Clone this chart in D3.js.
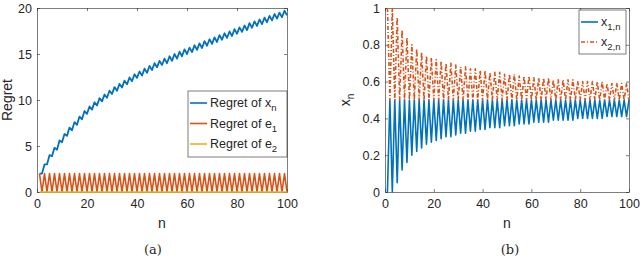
<!DOCTYPE html>
<html>
<head>
<meta charset="utf-8">
<script src="https://cdn.jsdelivr.net/npm/d3@7"></script>
<style>
  body { margin: 0; background: #fff; }
  svg { display: block; }
  text { font-family: "Liberation Sans", Arial, Helvetica, sans-serif; fill: #262626; }
</style>
</head>
<body>
<script>
// ---- data ----
var nTicks = [0, 20, 40, 60, 80, 100];
var regretTicks = [0, 5, 10, 15, 20];
var xnTicks = [0, 0.2, 0.4, 0.6, 0.8, 1];

var regretX = [2.0, 2.0, 3.0, 3.0, 4.0, 3.9, 4.8, 4.6, 5.6, 5.4,
  6.3, 6.1, 7.0, 6.7, 7.6, 7.3, 8.2, 7.9, 8.8, 8.5,
  9.3, 8.95, 9.75, 9.4, 10.2, 9.85, 10.6, 10.25, 11.0, 10.65,
  11.4, 11.0, 11.75, 11.35, 12.1, 11.7, 12.45, 12.05, 12.8, 12.4,
  13.1, 12.65, 13.4, 12.95, 13.7, 13.25, 14.0, 13.55, 14.25, 13.8,
  14.5, 14.0, 14.75, 14.25, 15.0, 14.5, 15.25, 14.75, 15.5, 15.0,
  15.7, 15.2, 15.95, 15.45, 16.15, 15.65, 16.4, 15.9, 16.6, 16.1,
  16.8, 16.3, 17.05, 16.55, 17.25, 16.75, 17.45, 16.95, 17.7, 17.2,
  17.9, 17.4, 18.1, 17.6, 18.35, 17.85, 18.55, 18.05, 18.75, 18.25,
  18.95, 18.45, 19.15, 18.65, 19.35, 18.85, 19.5, 19.0, 19.7, 19.2];

var regretE1 = [2, 0, 2, 0, 2, 0, 2, 0, 2, 0, 2, 0, 2, 0, 2, 0, 2, 0, 2, 0,
  2, 0, 2, 0, 2, 0, 2, 0, 2, 0, 2, 0, 2, 0, 2, 0, 2, 0, 2, 0,
  2, 0, 2, 0, 2, 0, 2, 0, 2, 0, 2, 0, 2, 0, 2, 0, 2, 0, 2, 0,
  2, 0, 2, 0, 2, 0, 2, 0, 2, 0, 2, 0, 2, 0, 2, 0, 2, 0, 2, 0,
  2, 0, 2, 0, 2, 0, 2, 0, 2, 0, 2, 0, 2, 0, 2, 0, 2, 0, 2, 0];

var regretE2 = [0, 0, 0, 0, 0, 0, 0, 0, 0, 0, 0, 0, 0, 0, 0, 0, 0, 0, 0, 0,
  0, 0, 0, 0, 0, 0, 0, 0, 0, 0, 0, 0, 0, 0, 0, 0, 0, 0, 0, 0,
  0, 0, 0, 0, 0, 0, 0, 0, 0, 0, 0, 0, 0, 0, 0, 0, 0, 0, 0, 0,
  0, 0, 0, 0, 0, 0, 0, 0, 0, 0, 0, 0, 0, 0, 0, 0, 0, 0, 0, 0,
  0, 0, 0, 0, 0, 0, 0, 0, 0, 0, 0, 0, 0, 0, 0, 0, 0, 0, 0, 0];

var x1n = [0.00, 0.5, 0.00, 0.5, 0.05, 0.5, 0.12, 0.5, 0.16, 0.5,
  0.20, 0.5, 0.22, 0.5, 0.24, 0.5, 0.26, 0.5, 0.27, 0.5,
  0.28, 0.5, 0.29, 0.5, 0.30, 0.5, 0.30, 0.5, 0.31, 0.5,
  0.32, 0.5, 0.32, 0.5, 0.33, 0.5, 0.33, 0.5, 0.34, 0.5,
  0.34, 0.5, 0.35, 0.5, 0.35, 0.5, 0.35, 0.5, 0.36, 0.5,
  0.36, 0.5, 0.36, 0.5, 0.37, 0.5, 0.37, 0.5, 0.37, 0.5,
  0.38, 0.5, 0.38, 0.5, 0.38, 0.5, 0.38, 0.5, 0.39, 0.5,
  0.39, 0.5, 0.39, 0.5, 0.39, 0.5, 0.39, 0.5, 0.40, 0.5,
  0.40, 0.5, 0.40, 0.5, 0.40, 0.5, 0.40, 0.5, 0.40, 0.5,
  0.41, 0.5, 0.41, 0.5, 0.41, 0.5, 0.41, 0.5, 0.41, 0.5];

var x2n = [1.00, 0.5, 1.00, 0.5, 0.95, 0.5, 0.88, 0.5, 0.84, 0.5,
  0.80, 0.5, 0.78, 0.5, 0.76, 0.5, 0.74, 0.5, 0.73, 0.5,
  0.72, 0.5, 0.71, 0.5, 0.70, 0.5, 0.70, 0.5, 0.69, 0.5,
  0.68, 0.5, 0.68, 0.5, 0.67, 0.5, 0.67, 0.5, 0.66, 0.5,
  0.66, 0.5, 0.65, 0.5, 0.65, 0.5, 0.65, 0.5, 0.64, 0.5,
  0.64, 0.5, 0.64, 0.5, 0.63, 0.5, 0.63, 0.5, 0.63, 0.5,
  0.62, 0.5, 0.62, 0.5, 0.62, 0.5, 0.62, 0.5, 0.61, 0.5,
  0.61, 0.5, 0.61, 0.5, 0.61, 0.5, 0.61, 0.5, 0.60, 0.5,
  0.60, 0.5, 0.60, 0.5, 0.60, 0.5, 0.60, 0.5, 0.60, 0.5,
  0.59, 0.5, 0.59, 0.5, 0.59, 0.5, 0.59, 0.5, 0.59, 0.5];

var n = d3.range(1, 101);

var blue = "#0072BD", red = "#D95319", yellow = "#EDB120";

var svg = d3.select("body").append("svg").attr("width", 640).attr("height", 258);

// draws one MATLAB-like panel
function panel(opt) {
  var x = d3.scaleLinear().domain([0, 100]).range([opt.left, opt.right]);
  var y = d3.scaleLinear().domain(opt.ydomain).range([192, 8]);
  var g = svg.append("g");

  var axStyle = function(sel) {
    sel.select(".domain").attr("stroke", "#262626").attr("stroke-width", 0.6);
    sel.selectAll(".tick line").attr("stroke", "#262626").attr("stroke-width", 0.6);
    sel.selectAll(".tick text").style("font-family", "'Liberation Sans', Arial, sans-serif")
      .style("font-size", "12.5px").attr("fill", "#262626");
  };

  g.append("g").attr("transform", "translate(0,192)")
    .call(d3.axisBottom(x).tickValues(nTicks).tickSizeInner(-3).tickSizeOuter(0).tickPadding(7))
    .call(axStyle);
  g.append("g").attr("transform", "translate(0,8)")
    .call(d3.axisTop(x).tickValues(nTicks).tickSizeInner(-3).tickSizeOuter(0).tickFormat(""))
    .call(axStyle);
  g.append("g").attr("transform", "translate(" + opt.left + ",0)")
    .call(d3.axisLeft(y).tickValues(opt.yticks).tickSizeInner(-3).tickSizeOuter(0).tickPadding(5)
      .tickFormat(opt.yfmt))
    .call(axStyle);
  g.append("g").attr("transform", "translate(" + opt.right + ",0)")
    .call(d3.axisRight(y).tickValues(opt.yticks).tickSizeInner(-3).tickSizeOuter(0).tickFormat(""))
    .call(axStyle);

  var line = d3.line().x(function(d, i) { return x(n[i]); }).y(function(d) { return y(d); });
  opt.series.forEach(function(s) {
    g.append("path").datum(s.values)
      .attr("d", line).attr("fill", "none")
      .attr("stroke", s.color).attr("stroke-width", s.width || 1.6)
      .attr("stroke-dasharray", s.dash || null)
      .attr("stroke-linejoin", "round");
  });

  // axis labels
  g.append("text").attr("x", (opt.left + opt.right) / 2).attr("y", 228)
    .attr("text-anchor", "middle").style("font-size", "14px").text("n");
  var yl = g.append("text")
    .attr("transform", "translate(" + opt.ylabelX + ",100) rotate(-90)")
    .attr("text-anchor", "middle").style("font-size", "14px");
  yl.append("tspan").text(opt.ylabel);
  if (opt.ylabelSub) yl.append("tspan").attr("dy", 4).style("font-size", "10px").text(opt.ylabelSub);

  // panel caption
  g.append("text").attr("x", opt.capX).attr("y", 254).attr("text-anchor", "middle")
    .style("font-family", "'DejaVu Serif', 'Liberation Serif', serif").style("font-size", "13px")
    .text(opt.caption);

  // legend
  var L = opt.legend;
  var lg = g.append("g");
  lg.append("rect").attr("x", L.x).attr("y", L.y).attr("width", L.w).attr("height", L.h)
    .attr("fill", "#fff").attr("stroke", "#262626").attr("stroke-width", 0.6);
  L.items.forEach(function(it, i) {
    var cy = L.y + L.first + i * L.step;
    lg.append("line").attr("x1", L.x + 2).attr("x2", L.x + 19).attr("y1", cy).attr("y2", cy)
      .attr("stroke", it.color).attr("stroke-width", 1.6).attr("stroke-dasharray", it.dash || null);
    var t = lg.append("text").attr("x", L.x + 22).attr("y", cy + 4).style("font-size", "12.5px");
    t.append("tspan").text(it.label);
    t.append("tspan").attr("dy", 4).style("font-size", "9.5px").text(it.sub);
  });
}

panel({
  left: 37, right: 287, ydomain: [0, 20], yticks: regretTicks, yfmt: d3.format("d"),
  ylabel: "Regret", ylabelX: 12, capX: 153, caption: "(a)",
  series: [
    { values: regretX, color: blue, width: 1.8 },
    { values: regretE1, color: red },
    { values: regretE2, color: yellow }
  ],
  legend: { x: 188, y: 91, w: 99, h: 66, first: 12, step: 20.5, items: [
    { label: "Regret of x", sub: "n", color: blue },
    { label: "Regret of e", sub: "1", color: red },
    { label: "Regret of e", sub: "2", color: yellow }
  ] }
});

panel({
  left: 385, right: 629, ydomain: [0, 1], yticks: xnTicks,
  yfmt: function(d) { return d === 0 || d === 1 ? d3.format("d")(d) : d3.format(".1f")(d); },
  ylabel: "x", ylabelSub: "n", ylabelX: 350, capX: 510, caption: "(b)",
  series: [
    { values: x1n, color: blue },
    { values: x2n, color: red, dash: "4,2,1,2" }
  ],
  legend: { x: 579, y: 10, w: 47, h: 44, first: 12, step: 20, items: [
    { label: "x", sub: "1,n", color: blue },
    { label: "x", sub: "2,n", color: red, dash: "4,2,1,2" }
  ] }
});
</script>
</body>
</html>
